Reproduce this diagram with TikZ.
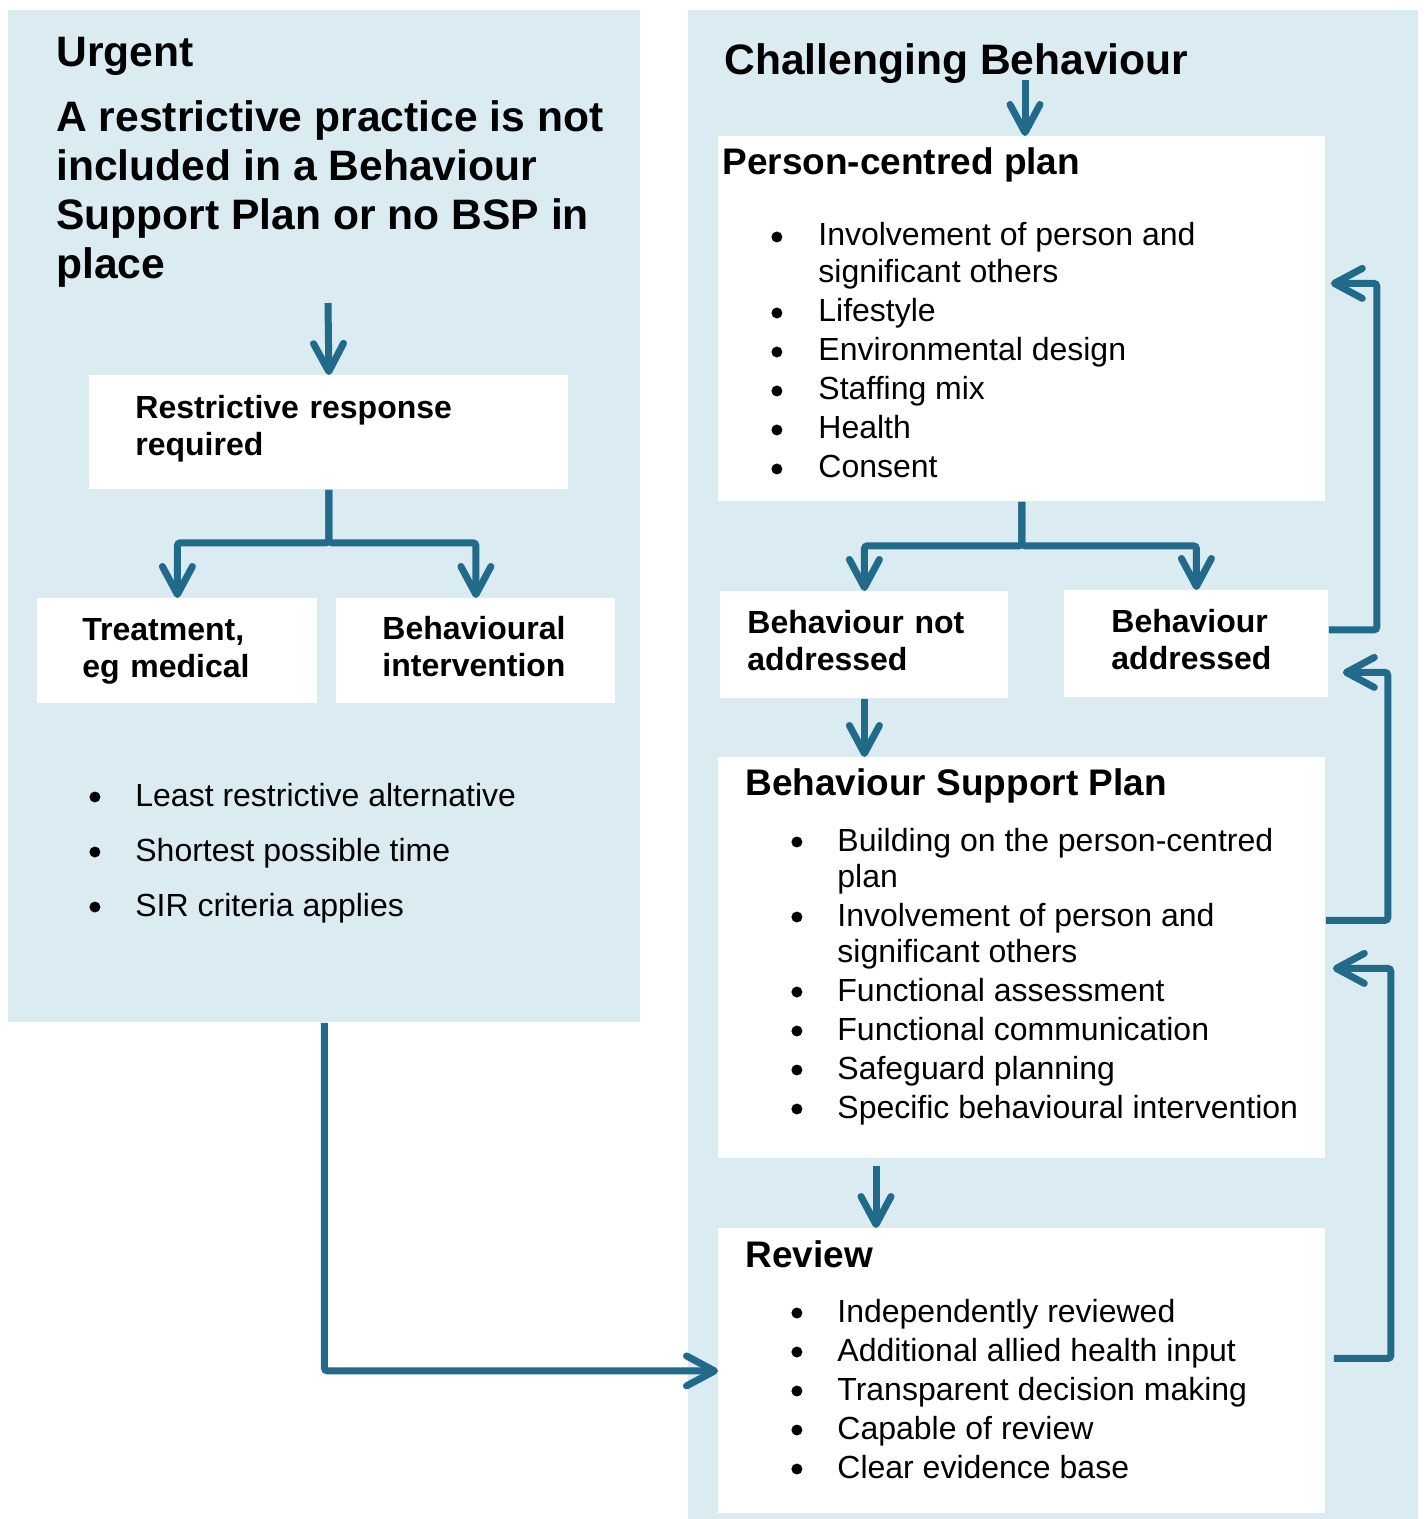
\documentclass[tikz,border=0pt]{standalone}
\usepackage{fontspec}
\setmainfont{Liberation Sans}
\usetikzlibrary{positioning, arrows.meta}
\definecolor{panelblue}{HTML}{DAECF2}
\definecolor{flowblue}{HTML}{226A8A}
\newcommand{\hdfont}{\fontsize{21.3pt}{24.5pt}\selectfont\bfseries}
\newcommand{\ttlfont}{\fontsize{18.5pt}{22pt}\selectfont\bfseries}
\newcommand{\cardfont}{\fontsize{16pt}{18.5pt}\selectfont\bfseries}
\newcommand{\itemsfont}{\fontsize{16pt}{19.5pt}\selectfont}
\newcommand{\blob}{\hspace{1pt}\tikz[baseline=-4.5pt]\fill[black] (0,0) circle (2.75pt);}
\newcommand{\cardpad}{\endgraf\vspace{4pt}}

\begin{document}
\begin{tikzpicture}[x=0.5pt, y=-0.5pt,
    panel/.style={fill=panelblue, inner sep=0pt, anchor=north west},
    card/.style={fill=white, inner sep=0pt, anchor=north west},
    cardtext/.style={card, inner ysep=0pt, align=left, font=\cardfont},
    liftedtext/.style={cardtext, execute at end node=\cardpad},
    heading/.style={anchor=base west, inner sep=0pt, font=\hdfont},
    cardtitle/.style={anchor=base west, inner sep=0pt, font=\ttlfont},
    itemlist/.style={anchor=base west, inner sep=0pt, font=\itemsfont},
    flow/.style={draw=flowblue, line width=3.5pt, rounded corners=1.5pt,
        -{Straight Barb[length=14pt, width=15pt, line cap=round, line join=round]}}]
    \useasboundingbox (0,0) rectangle (1424,1519);
    % the two panels
    \node[panel, minimum width=316pt, minimum height=506pt] (urgentpanel) at (8,10) {};
    \node[panel, minimum width=365pt, minimum height=754.5pt] (cbpanel) at (688,10) {};

    % urgent side
    \node[heading] (urgent) at (56,67) {Urgent};
    \node[heading] (trigger) at (56,132) {\begin{tabular}[t]{@{}l@{}}A restrictive practice is not\\included in a Behaviour\\Support Plan or no BSP in\\place\end{tabular}};
    \coordinate (triggerout) at (328,303);
    \node[liftedtext, minimum width=239.5pt, minimum height=57pt, text width=193.5pt, inner xsep=23pt] (respond) at (89,375) {Restrictive response\\required};
    \node[cardtext, minimum width=140pt, minimum height=52.5pt, text width=95pt, inner xsep=22.5pt] (treat) at (37,598) {Treatment,\\eg medical};
    \node[liftedtext, minimum width=139.5pt, minimum height=52.5pt, text width=93.5pt, inner xsep=23pt] (behint) at (336,598) {Behavioural\\intervention};
    \node[itemlist, font=\fontsize{16pt}{27.5pt}\selectfont] (urgentlist) at (87,806) {\begin{tabular}[t]{@{}p{24pt}@{}l@{}}
        \blob & Least restrictive alternative\\
        \blob & Shortest possible time\\
        \blob & SIR criteria applies\end{tabular}};

    % challenging behaviour side
    \node[heading] (challenge) at (724,75) {Challenging Behaviour};
    \coordinate (challengeout) at (1025,80);
    \node[card, minimum width=303.5pt, minimum height=182.5pt] (person) at (718,136) {};
    \node[cardtitle] (persontitle) at (722,175) {Person-centred plan};
    \node[itemlist] (personlist) at (769,246) {\begin{tabular}[t]{@{}p{24.5pt}@{}l@{}}
        \blob & Involvement of person and\\[-1pt]
        & significant others\\
        \blob & Lifestyle\\
        \blob & Environmental design\\
        \blob & Staffing mix\\
        \blob & Health\\
        \blob & Consent\end{tabular}};
    \node[liftedtext, minimum width=144pt, minimum height=53.5pt, text width=117pt, inner xsep=13.5pt] (notdone) at (720,591) {Behaviour not\\addressed};
    \node[liftedtext, minimum width=132pt, minimum height=53.5pt, text width=85pt, inner xsep=23.5pt] (done) at (1064,590) {Behaviour\\addressed};
    \node[card, minimum width=303.5pt, minimum height=200.5pt] (bsp) at (718,757) {};
    \node[cardtitle] (bsptitle) at (745,795) {Behaviour Support Plan};
    \node[itemlist] (bsplist) at (789,851) {\begin{tabular}[t]{@{}p{24pt}@{}l@{}}
        \blob & Building on the person-centred\\[-1.5pt]
        & plan\\
        \blob & Involvement of person and\\[-1.5pt]
        & significant others\\
        \blob & Functional assessment\\
        \blob & Functional communication\\
        \blob & Safeguard planning\\
        \blob & Specific behavioural intervention\end{tabular}};
    \node[card, minimum width=303.5pt, minimum height=142.5pt] (review) at (718,1228) {};
    \node[cardtitle] (reviewtitle) at (745,1267) {Review};
    \node[itemlist] (reviewlist) at (789,1322) {\begin{tabular}[t]{@{}p{24pt}@{}l@{}}
        \blob & Independently reviewed\\
        \blob & Additional allied health input\\
        \blob & Transparent decision making\\
        \blob & Capable of review\\
        \blob & Clear evidence base\end{tabular}};

    % connectors
    \draw[flow] (triggerout) -- (respond.north);
    \draw[flow] (respond.south) -- ++(0,53) -| (treat.north);
    \draw[flow] (respond.south) -- ++(0,53) -| (behint.north);
    \draw[flow] (challengeout) -- (challengeout |- person.north);
    \draw[flow] (person.south) -- ++(0,44) -| (notdone.north);
    \draw[flow] (person.south) -- ++(0,44) -| (done.north);
    \draw[flow] (notdone.south) -- (notdone.south |- bsp.north);
    \draw[flow] ([xshift=79pt, yshift=-3.5pt]bsp.south west) -- ([xshift=79pt]review.north west);
    \draw[flow] ([yshift=7pt]done.east) -- ++(48,0) |- ([xshift=2.5pt, yshift=17.75pt]person.east);
    \draw[flow] ([yshift=18.75pt]bsp.east) -- ++(62,0) |- ([xshift=7pt, yshift=-14.25pt]done.east);
    \draw[flow] ([xshift=4pt, yshift=6.25pt]review.east) -- ++(57,0) |- ([xshift=3.5pt, yshift=-5.25pt]bsp.east);
    \draw[flow] (urgentpanel.south) |- (review.west);
\end{tikzpicture}
\end{document}
